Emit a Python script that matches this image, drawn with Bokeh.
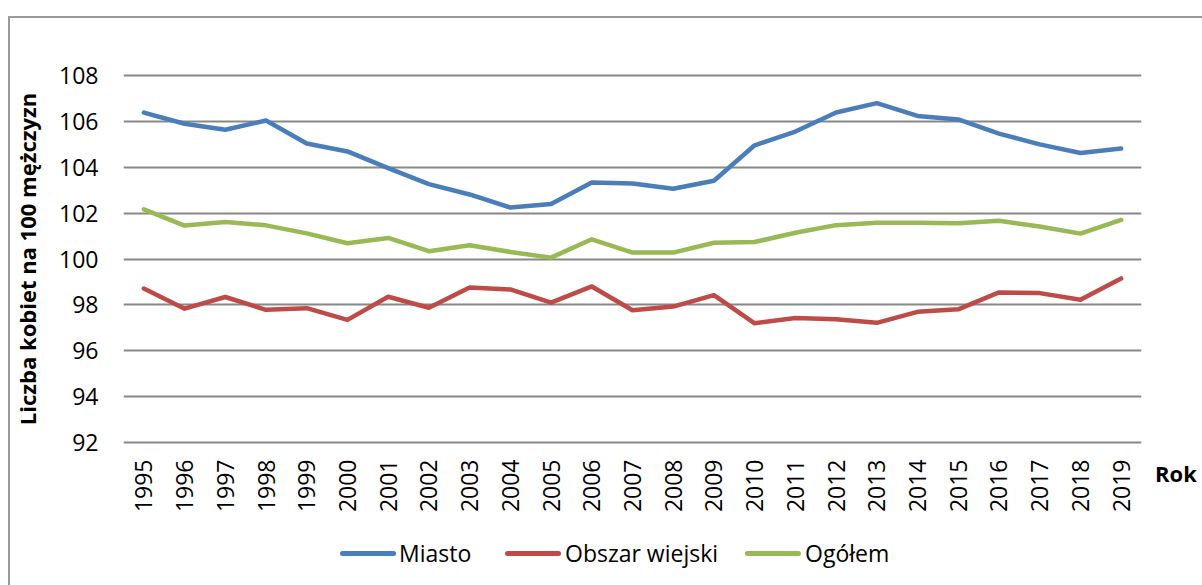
import math
from bokeh.plotting import figure
from bokeh.models import FactorRange, Range1d, FixedTicker, Div, InlineStyleSheet
from bokeh.layouts import column, row
from bokeh.embed import file_html
from bokeh.resources import INLINE

years = [str(y) for y in range(1995, 2020)]
miasto = [106.40, 105.91, 105.65, 106.05, 105.05, 104.70, 103.97, 103.27, 102.82, 102.25,
          102.40, 103.34, 103.30, 103.07, 103.42, 104.97, 105.57, 106.40, 106.81, 106.25,
          106.10, 105.48, 105.01, 104.63, 104.83]
wies = [98.71, 97.83, 98.34, 97.78, 97.85, 97.34, 98.35, 97.87, 98.75, 98.67,
        98.09, 98.80, 97.76, 97.92, 98.42, 97.19, 97.42, 97.37, 97.21, 97.69,
        97.80, 98.54, 98.51, 98.22, 99.15]
ogolem = [102.17, 101.46, 101.62, 101.47, 101.12, 100.69, 100.92, 100.34, 100.60, 100.31,
          100.06, 100.86, 100.28, 100.28, 100.71, 100.74, 101.15, 101.48, 101.58, 101.58,
          101.56, 101.67, 101.42, 101.11, 101.71]
series_names = ["Miasto", "Obszar wiejski", "Ogółem"]
series_colors = ["#4A7EBB", "#BE4B48", "#98B954"]
y_ticks = [92, 94, 96, 98, 100, 102, 104, 106, 108]
x_title = "Rok"
y_title = "Liczba kobiet na 100 mężczyzn"

FONT = "Open Sans"

p = figure(width=1150, height=530, x_range=FactorRange(*years, range_padding=0),
           y_range=Range1d(91.85, 108.15), output_backend="svg", toolbar_location=None,
           min_border_left=123, min_border_right=9, min_border_top=72, min_border_bottom=85)
p.margin = 0
p.outline_line_color = None
p.background_fill_color = "white"
p.border_fill_color = "white"

p.xgrid.grid_line_color = None
p.ygrid.grid_line_color = "#888888"
p.ygrid.grid_line_width = 2
p.yaxis.ticker = FixedTicker(ticks=y_ticks)

for ax in (p.xaxis[0], p.yaxis[0]):
    ax.axis_line_color = None
    ax.major_tick_line_color = None
    ax.minor_tick_line_color = None
    ax.major_tick_in = 0
    ax.major_tick_out = 0
    ax.major_label_text_font = FONT
    ax.major_label_text_font_size = "23px"
    ax.major_label_text_color = "black"

p.yaxis.major_label_standoff = 25
p.xaxis.major_label_standoff = 14
p.xaxis.major_label_orientation = math.pi / 2

p.yaxis.axis_label = y_title
p.yaxis.axis_label_text_font = FONT
p.yaxis.axis_label_text_font_style = "bold"
p.yaxis.axis_label_text_font_size = "22px"
p.yaxis.axis_label_text_color = "black"
p.yaxis.axis_label_standoff = 14

for vals, col in zip([miasto, wies, ogolem], series_colors):
    p.line(years, vals, line_color=col, line_width=4.5,
           line_cap="round", line_join="round")

# "Rok" axis title beside the category labels
rok_div = Div(text=(f"<div style=\"margin-top:462px;margin-left:5px;font-family:'{FONT}';"
                    f"font-weight:bold;font-size:22px;line-height:22px;color:black;\">{x_title}</div>"),
              width=52, height=530, margin=0)

# legend
legend_pos = [(340, 399), (505, 565), (745, 805)]
items = []
for name, col, (lx, tx) in zip(series_names, series_colors, legend_pos):
    items.append(f"<div style=\"position:absolute;left:{lx}px;top:21px;width:56px;height:5px;"
                 f"border-radius:3px;background:{col};\"></div>")
    items.append(f"<div style=\"position:absolute;left:{tx}px;top:8px;line-height:31px;"
                 f"white-space:nowrap;\">{name}</div>")
legend_div = Div(text=(f"<div style=\"position:relative;width:1202px;height:55px;"
                       f"font-family:'{FONT}';font-size:23px;color:black;\">" + "".join(items) + "</div>"),
                 width=1202, height=55, margin=0)

border_css = InlineStyleSheet(css="""
:host::after {
  content: ''; position: absolute; left: 8px; top: 16px;
  width: calc(100% - 8px); height: calc(100% - 16px);
  border-left: 2px solid #9a9a9a; border-top: 2px solid #9a9a9a;
  box-sizing: border-box; pointer-events: none; z-index: 10;
}
""")

top_row = row(p, rok_div, spacing=0)
top_row.margin = 0
layout = column(top_row, legend_div, spacing=0)
layout.margin = 0
layout.stylesheets = [border_css]

open("out.html", "w").write(file_html(layout, INLINE))
